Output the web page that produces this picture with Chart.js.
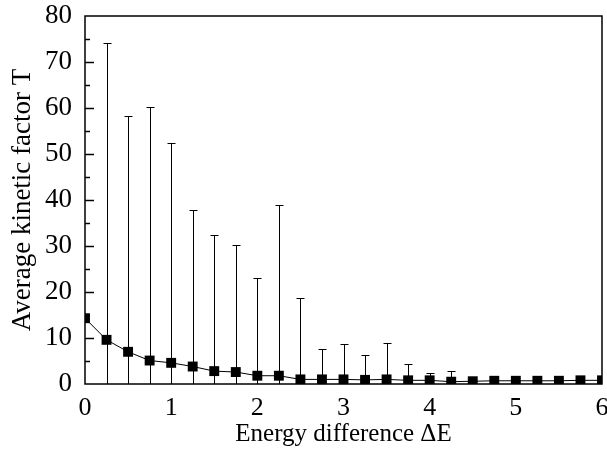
<!DOCTYPE html>
<html>
<head>
<meta charset="utf-8">
<script src="https://cdn.jsdelivr.net/npm/chart.js@4"></script>
<style>
  html, body { margin: 0; padding: 0; background: #fff; }
  #wrap { width: 607px; height: 453px; }
</style>
</head>
<body>
<div id="wrap"><canvas id="chart"></canvas></div>
<script>
// energy difference values
const energyDiff = [0, 0.25, 0.5, 0.75, 1, 1.25, 1.5, 1.75, 2, 2.25, 2.5, 2.75, 3,
  3.25, 3.5, 3.75, 4, 4.25, 4.5, 4.75, 5, 5.25, 5.5, 5.75, 6];
// average kinetic factor
const meanT = [14.3, 9.6, 7.0, 5.1, 4.6, 3.8, 2.8, 2.6, 1.8, 1.8, 1.0, 1.0, 1.0,
  0.9, 1.0, 0.8, 0.8, 0.5, 0.6, 0.7, 0.7, 0.7, 0.7, 0.8, 0.8];
// top of the error bar
const upperT = [14.3, 74.2, 58.2, 60.2, 52.5, 37.8, 32.3, 30.2, 23.1, 39.0, 18.8, 7.6, 8.8,
  6.2, 8.9, 4.4, 2.5, 2.75, 0.7, 0.7, 0.7, 0.7, 0.7, 0.8, 0.8];
const yTickLabels = [0, 10, 20, 30, 40, 50, 60, 70, 80];

const font = "'Liberation Serif', 'Times New Roman', serif";

const frameAndErrors = {
  id: 'frameAndErrors',
  beforeDatasetsDraw(chart) {
    const { ctx, chartArea: a, scales: { x, y } } = chart;
    ctx.save();
    ctx.beginPath();
    ctx.rect(a.left, a.top, a.right - a.left, a.bottom - a.top);
    ctx.clip();
    ctx.strokeStyle = '#000';
    ctx.lineWidth = 1;
    energyDiff.forEach((e, i) => {
      if (upperT[i] <= meanT[i] + 0.05) return;
      const px = Math.round(x.getPixelForValue(e)) + 0.5;
      const top = Math.round(y.getPixelForValue(upperT[i])) + 0.5;
      const low = y.getPixelForValue(meanT[i] - (upperT[i] - meanT[i]));
      ctx.beginPath();
      ctx.moveTo(px, low);
      ctx.lineTo(px, top);
      ctx.moveTo(px - 4, top);
      ctx.lineTo(px + 4, top);
      ctx.stroke();
    });
    ctx.restore();
  },
  afterDraw(chart) {
    const { ctx, chartArea: a, scales: { y } } = chart;
    ctx.save();
    ctx.strokeStyle = '#000';
    ctx.lineWidth = 1.5;
    // inner ticks on the left axis
    for (let v = 5; v < 80; v += 5) {
      const py = Math.round(y.getPixelForValue(v)) + 0.5;
      const len = v % 10 === 0 ? 9 : 5;
      ctx.beginPath();
      ctx.moveTo(a.left, py);
      ctx.lineTo(a.left + len, py);
      ctx.stroke();
    }
    ctx.strokeRect(a.left, a.top, a.right - a.left, a.bottom - a.top);
    ctx.restore();
  }
};

new Chart(document.getElementById('chart'), {
  type: 'line',
  data: {
    labels: energyDiff,
    datasets: [{
      data: energyDiff.map((e, i) => ({ x: e, y: meanT[i] })),
      borderColor: '#000',
      borderWidth: 1,
      backgroundColor: '#000',
      pointStyle: 'rect',
      pointRadius: 7,
      pointBorderWidth: 0,
      tension: 0
    }]
  },
  options: {
    responsive: true,
    maintainAspectRatio: false,
    animation: false,
    events: [],
    layout: { autoPadding: false, padding: { top: 16, right: 5, left: 0, bottom: 0 } },
    plugins: { legend: { display: false }, tooltip: { enabled: false } },
    scales: {
      x: {
        type: 'linear',
        min: 0,
        max: 6,
        border: { display: false },
        grid: { display: false, drawTicks: false },
        ticks: {
          stepSize: 1,
          padding: 9,
          color: '#000',
          maxRotation: 0,
          font: { family: font, size: 26 }
        },
        title: {
          display: true,
          text: 'Energy difference \u0394E',
          color: '#000',
          padding: { top: 0, bottom: 4 },
          font: { family: font, size: 25 }
        },
        afterFit(scale) {
          scale.height = 69;
          scale.paddingLeft = 0;
          scale.paddingRight = 0;
        }
      },
      y: {
        min: 0,
        max: 80,
        border: { display: false },
        grid: { display: false, drawTicks: false },
        afterBuildTicks(scale) {
          scale.ticks = yTickLabels.map(v => ({ value: v }));
        },
        ticks: {
          padding: 13,
          color: '#000',
          font: { family: font, size: 27 }
        },
        title: {
          display: true,
          text: 'Average kinetic factor T',
          color: '#000',
          padding: { top: 7, bottom: 0 },
          font: { family: font, size: 27 }
        },
        afterFit(scale) {
          scale.width = 85;
          scale.paddingTop = 0;
          scale.paddingBottom = 0;
        }
      }
    }
  },
  plugins: [frameAndErrors]
});
</script>
</body>
</html>
